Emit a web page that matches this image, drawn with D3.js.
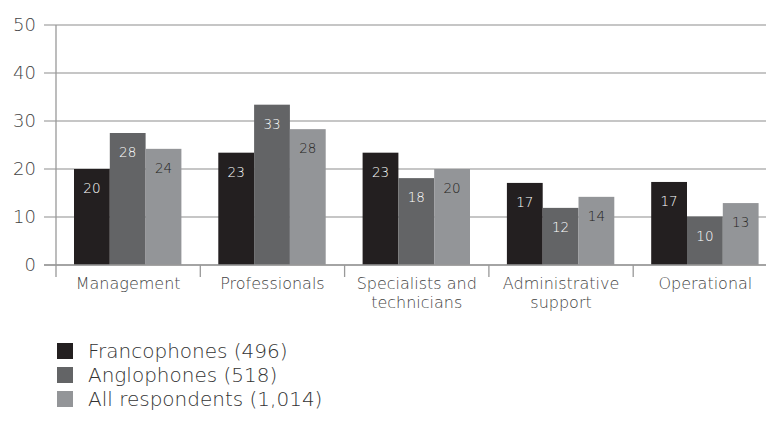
<!DOCTYPE html>
<html>
<head>
<meta charset="utf-8">
<script src="https://cdn.jsdelivr.net/npm/d3@7/dist/d3.min.js"></script>
<style>
  html, body { margin: 0; padding: 0; background: #fff; }
  svg { display: block; font-family: "DejaVu Sans", "Lato", sans-serif; font-weight: 200; }
</style>
</head>
<body>
<svg id="chart" width="766" height="421"></svg>
<script>
// Occupational groups and the share (%) of each respondent group in them
const categories = ["Management", "Professionals", "Specialists and technicians", "Administrative support", "Operational"];
const categoryLines = [["Management"], ["Professionals"], ["Specialists and", "technicians"], ["Administrative", "support"], ["Operational"]];
const seriesNames = ["Francophones (496)", "Anglophones (518)", "All respondents (1,014)"];
const francophones = [20.0, 23.4, 23.4, 17.1, 17.3];
const anglophones = [27.5, 33.4, 18.1, 11.9, 10.1];
const allRespondents = [24.2, 28.3, 20.0, 14.2, 12.9];
const yTicks = [0, 10, 20, 30, 40, 50];

const seriesValues = [francophones, anglophones, allRespondents];
const colors = ["#231f20", "#636466", "#939598"];
const labelColors = ["#ffffff", "#ffffff", "#231f20"];

const svg = d3.select("#chart");
const plotLeft = 56, bandW = 144.3, plotTop = 25, plotBottom = 265;

const x = d3.scaleBand().domain(categories).range([plotLeft, plotLeft + bandW * categories.length]).padding(0);
const xs = d3.scaleBand().domain(d3.range(seriesNames.length)).range([18, 18 + 107.4]).padding(0);
const y = d3.scaleLinear().domain([0, 50]).range([plotBottom, plotTop]);

// horizontal gridlines
svg.append("g").selectAll("line").data(yTicks).join("line")
  .attr("x1", 44).attr("x2", 766)
  .attr("y1", d => y(d)).attr("y2", d => y(d))
  .attr("stroke", "#b3b3b3").attr("stroke-width", 1.3);

// y axis tick labels
svg.append("g").selectAll("text").data(yTicks).join("text")
  .attr("x", 36).attr("y", d => y(d)).attr("dy", "0.36em")
  .attr("text-anchor", "end")
  .attr("font-size", 18).attr("fill", "#444")
  .text(d => d);

// bars with value labels
const groups = svg.append("g").selectAll("g").data(categories).join("g")
  .attr("transform", c => `translate(${x(c)},0)`);

groups.each(function(c, ci) {
  const g = d3.select(this);
  seriesValues.forEach((vals, si) => {
    const v = vals[ci];
    g.append("rect")
      .attr("x", xs(si)).attr("width", xs.bandwidth())
      .attr("y", y(v)).attr("height", y(0) - y(v))
      .attr("fill", colors[si]);
    g.append("text")
      .attr("x", xs(si) + xs.bandwidth() / 2)
      .attr("y", y(v) + 24)
      .attr("text-anchor", "middle")
      .attr("font-size", 13.5).attr("fill", labelColors[si])
      .text(Math.round(v));
  });
});

// axis lines
svg.append("line").attr("x1", plotLeft).attr("x2", plotLeft).attr("y1", plotTop).attr("y2", plotBottom + 12)
  .attr("stroke", "#999").attr("stroke-width", 1.3);
svg.append("line").attr("x1", 44).attr("x2", 766).attr("y1", plotBottom).attr("y2", plotBottom)
  .attr("stroke", "#999").attr("stroke-width", 1.3);
svg.append("g").selectAll("line").data(categories.slice(1)).join("line")
  .attr("x1", c => x(c)).attr("x2", c => x(c))
  .attr("y1", plotBottom).attr("y2", plotBottom + 12)
  .attr("stroke", "#999").attr("stroke-width", 1.3);

// category labels
svg.append("g").selectAll("text").data(categories).join("text")
  .attr("x", c => x(c) + x.bandwidth() / 2)
  .attr("y", 289)
  .attr("text-anchor", "middle")
  .attr("font-size", 16).attr("fill", "#444")
  .each(function(c, i) {
    d3.select(this).selectAll("tspan").data(categoryLines[i]).join("tspan")
      .attr("x", x(c) + x.bandwidth() / 2)
      .attr("dy", (d, j) => j === 0 ? 0 : 19)
      .text(d => d);
  });

// legend
const legend = svg.append("g").selectAll("g").data(seriesNames).join("g")
  .attr("transform", (d, i) => `translate(57,${343 + i * 24})`);
legend.append("rect").attr("width", 16).attr("height", 16).attr("fill", (d, i) => colors[i]);
legend.append("text").attr("x", 31).attr("y", 8).attr("dy", "0.36em")
  .attr("font-size", 20).attr("fill", "#333")
  .text(d => d);
</script>
</body>
</html>
